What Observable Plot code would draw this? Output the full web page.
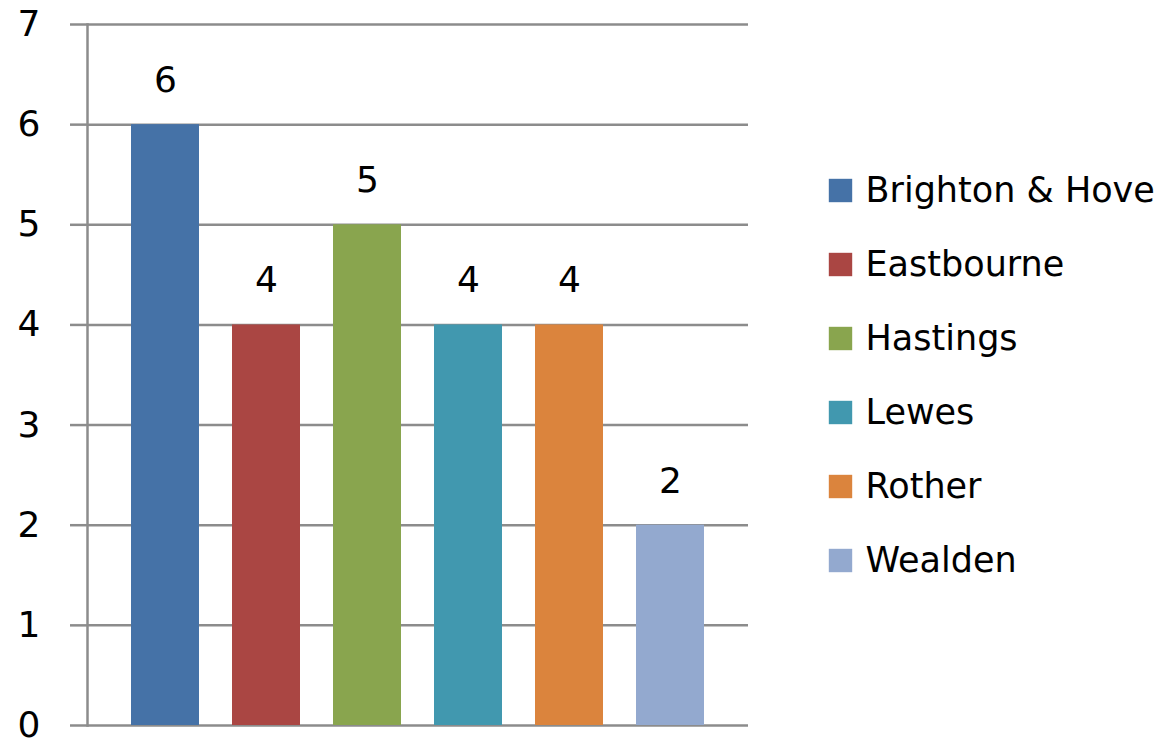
<!DOCTYPE html>
<html>
<head>
<meta charset="utf-8">
<script src="https://cdn.jsdelivr.net/npm/d3@7"></script>
<script src="https://cdn.jsdelivr.net/npm/@observablehq/plot@0.6"></script>
<style>
  html, body { margin: 0; padding: 0; background: #fff; }
  #wrap { position: relative; width: 1176px; height: 739px; font-family: "DejaVu Sans", sans-serif; }
  #chart { position: absolute; left: 0; top: 0; }
  #legend { position: absolute; left: 800px; top: 153px; }
</style>
</head>
<body>
<div id="wrap"><div id="chart"></div><div id="legend"></div></div>
<script>
const categories = ["Brighton & Hove", "Eastbourne", "Hastings", "Lewes", "Rother", "Wealden"];
const values = [6, 4, 5, 4, 4, 2];
const colors = ["#4572A7", "#AA4643", "#89A54E", "#4198AF", "#DB843D", "#93A9CF"];
const yTicks = [0, 1, 2, 3, 4, 5, 6, 7];

const data = categories.map((c, i) => ({category: c, value: values[i]}));
const colorScale = {domain: categories, range: colors};
const gridColor = "#8c8c8c";
const font = "DejaVu Sans, sans-serif";

const chart = Plot.plot({
  width: 760,
  height: 739,
  marginLeft: 87,
  marginRight: 12,
  marginTop: 24,
  marginBottom: 14,
  style: {fontFamily: font, fontSize: "36px", color: "#000", background: "#fff", overflow: "visible"},
  x: {domain: categories, paddingInner: 0.33, paddingOuter: 0.418, axis: null},
  y: {domain: [0, 7], ticks: yTicks, label: null},
  color: colorScale,
  marks: [
    Plot.gridY(yTicks, {stroke: gridColor, strokeOpacity: 1, strokeWidth: 2.5}),
    Plot.axisY(yTicks, {tickSize: 17, tickPadding: 30, tickFormat: d3.format("d"), stroke: gridColor, strokeWidth: 2.5, fill: "#000", fontSize: 36, label: null}),
    Plot.frame({anchor: "left", stroke: gridColor, strokeWidth: 2.5}),
    Plot.barY(data, {x: "category", y: "value", fill: "category"}),
    Plot.text(data, {x: "category", y: "value", text: d => String(d.value), dy: -44, fill: "#000", fontSize: 36})
  ]
});
document.getElementById("chart").appendChild(chart);

const legend = Plot.plot({
  width: 376,
  height: 444,
  margin: 0,
  style: {fontFamily: font, fontSize: "35px", color: "#000", background: "transparent", overflow: "visible"},
  y: {type: "point", domain: categories, padding: 0.5, axis: null},
  color: colorScale,
  marks: [
    Plot.dot(categories, {y: d => d, frameAnchor: "left", dx: 40, symbol: "square", r: 13.2, fill: d => d}),
    Plot.text(categories, {y: d => d, frameAnchor: "left", dx: 65, textAnchor: "start", text: d => d, fill: "#000", fontSize: 35, letterSpacing: 1.7})
  ]
});
document.getElementById("legend").appendChild(legend);
</script>
</body>
</html>
